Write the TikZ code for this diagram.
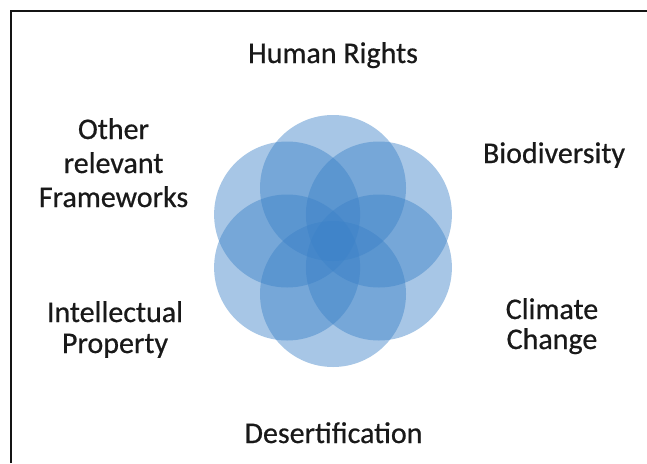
\documentclass[tikz,border=0pt]{standalone}
\usepackage{fontspec}
\setmainfont{Carlito}
\newfontfamily\lblfont{Carlito}[FakeBold=0.6]
\usetikzlibrary{calc}
\definecolor{petal}{RGB}{60,130,200}
\definecolor{frameline}{RGB}{20,20,20}
\tikzset{
  petalcircle/.style={fill=petal, fill opacity=0.45, draw=none},
  label/.style={font=\lblfont\fontsize{30}{34}\selectfont, text=black!90, anchor=base, align=center, inner sep=0pt},
}
\begin{document}
\begin{tikzpicture}[x=1pt,y=-1pt]
\useasboundingbox (0,0) rectangle (647,463);
\fill[white] (0,0) rectangle (647,463);
\draw[frameline, line width=2pt] (10.5,463) -- (10.5,10.5) -- (647,10.5);
\coordinate (c) at (333,241);
\foreach \a [count=\i] in {90,30,-30,-90,-150,150} {
  \fill[petalcircle] ($(c)+(\a:53)$) circle[radius=73];
}
\node[label] (hr) at (333,63) {Human Rights};
\node[label] (bio) at (554,163) {Biodiversity};
\node[label] (orf) at (113.5,139) {Other};
\node[label] (orf2) at (113.5,173) {relevant};
\node[label] (orf3) at (113.5,207) {Frameworks};
\node[label] (ip1) at (115,322) {Intellectual};
\node[label] (ip2) at (115,353) {Property};
\node[label] (cc1) at (552,319) {Climate};
\node[label] (cc2) at (552,349) {Change};
\node[label] (des) at (333.5,443) {Desertification};
\end{tikzpicture}
\end{document}
